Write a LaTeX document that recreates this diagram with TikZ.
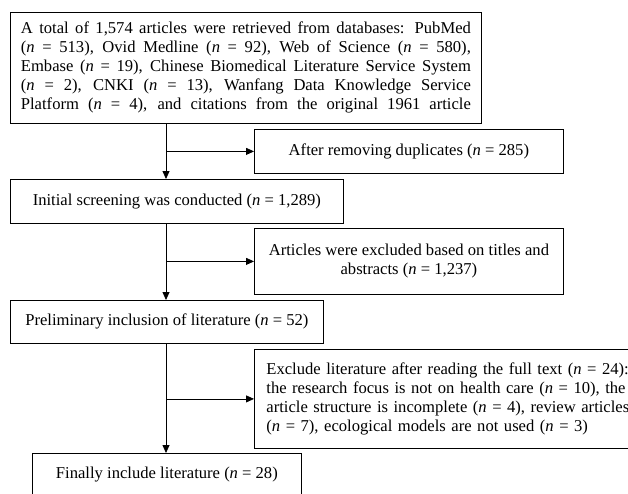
\documentclass[tikz,border=0pt]{standalone}
\usepackage{fontspec}
\setmainfont{Liberation Serif}
\usetikzlibrary{arrows.meta}
\newcommand{\nn}{\textit{n}}
\begin{document}
\begin{tikzpicture}[x=1pt,y=-1pt,
  box/.style={draw, line width=0.8pt, inner sep=0pt, anchor=north west,
    font=\fontsize{16.6}{19}\selectfont, align=center},
  arr/.style={line width=0.8pt, -{Triangle[length=8pt,width=7pt]}}]
\useasboundingbox (0,0) rectangle (628,493);
\clip (0,0) rectangle (628,493);

% main flow boxes
\node[box, minimum width=471pt, minimum height=111pt] (b1) at (10,12) {%
  \makebox[450pt][s]{A total of 1,574 articles were retrieved from databases: PubMed}\\
  \makebox[450pt][s]{(\nn{} = 513), Ovid Medline (\nn{} = 92), Web of Science (\nn{} = 580),}\\
  \makebox[450pt][s]{Embase (\nn{} = 19), Chinese Biomedical Literature Service System}\\
  \makebox[450pt][s]{(\nn{} = 2), CNKI (\nn{} = 13), Wanfang Data Knowledge Service}\\
  \makebox[450pt][s]{Platform (\nn{} = 4), and citations from the original 1961 article}};
\node[box, minimum width=333pt, minimum height=44pt] (b2) at (10,179)
  {Initial screening was conducted (\nn{} = 1,289)};
\node[box, minimum width=313pt, minimum height=43pt] (b3) at (10,300)
  {Preliminary inclusion of literature (\nn{} = 52)};
\node[box, minimum width=269pt, minimum height=43pt] (b4) at (32,453)
  {Finally include literature (\nn{} = 28)};

% exclusion boxes
\node[box, minimum width=309pt, minimum height=44pt] (x1) at (254,129)
  {After removing duplicates (\nn{} = 285)};
\node[box, minimum width=309pt, minimum height=66pt] (x2) at (254,228)
  {Articles were excluded based on titles and\\ abstracts (\nn{} = 1,237)};
\node[box, inner xsep=12pt, text width=359pt, minimum height=99pt, align=left] (x3) at (254,349)
  {\makebox[359pt][s]{Exclude literature after reading the full text (\nn{} = 24):}\\
   \makebox[359pt][s]{the research focus is not on health care (\nn{} = 10), the}\\
   \makebox[359pt][s]{article structure is incomplete (\nn{} = 4), review articles}\\
   (\nn{} = 7), ecological models are not used (\nn{} = 3)};

% vertical spine of the flow
\coordinate (spine) at (166,0);

\draw[arr] (b1.south -| spine) -- (b2.north -| spine);
\draw[arr] (b2.south -| spine) -- (b3.north -| spine);
\draw[arr] (b3.south -| spine) -- (b4.north -| spine);

\draw[arr] (spine |- x1.west) -- (x1.west);
\draw[arr] (spine |- x2.west) -- (x2.west);
\draw[arr] (spine |- x3.west) -- (x3.west);
\end{tikzpicture}
\end{document}
